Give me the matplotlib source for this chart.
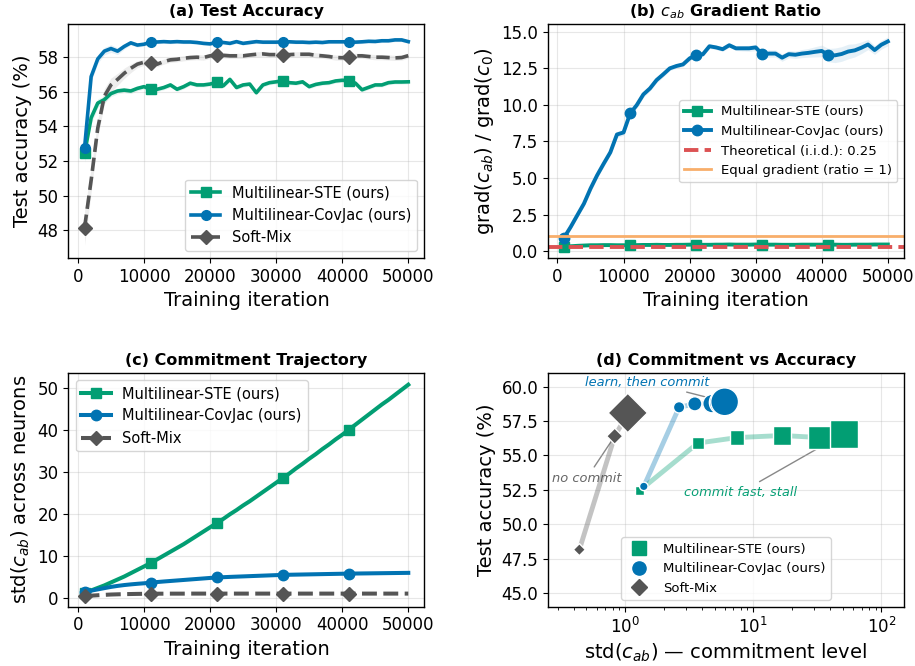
import numpy as np
import matplotlib
matplotlib.use("Agg")
import matplotlib.pyplot as plt
from matplotlib.lines import Line2D

# ---------------- data ----------------
iters = list(range(1000, 50001, 1000))

acc_ste = [52.45, 54.5, 55.35, 55.55, 55.9, 56.05, 56.1, 56.05, 56.2, 56.3,
           56.15, 56.15, 56.25, 56.4, 56.15, 56.3, 56.5, 56.4, 56.4, 56.45,
           56.55, 56.35, 56.72, 56.25, 56.4, 56.45, 55.95, 56.4, 56.53, 56.58,
           56.65, 56.53, 56.5, 56.58, 56.3, 56.43, 56.5, 56.53, 56.63, 56.67,
           56.65, 56.5, 56.12, 56.26, 56.4, 56.4, 56.53, 56.57, 56.57, 56.58]
acc_covjac = [52.75, 56.88, 57.9, 58.35, 58.5, 58.35, 58.62, 58.83, 58.7, 58.75,
              58.87, 58.88, 58.9, 58.88, 58.9, 58.88, 58.88, 58.85, 58.8, 58.77,
              58.87, 58.85, 58.8, 58.9, 58.8, 58.85, 58.9, 58.87, 58.87, 58.87,
              58.89, 58.89, 58.87, 58.87, 58.85, 58.87, 58.85, 58.89, 58.89, 58.89,
              58.89, 58.87, 58.89, 58.92, 58.91, 58.95, 58.95, 59.0, 59.0, 58.9]
acc_soft = [48.15, 50.9, 53.9, 55.75, 56.4, 56.72, 57.07, 57.36, 57.6, 57.71,
            57.68, 57.6, 57.75, 57.85, 57.88, 57.94, 57.98, 58.0, 57.98, 58.08,
            58.12, 58.11, 58.08, 58.08, 58.08, 58.13, 58.17, 58.19, 58.15, 58.15,
            58.13, 58.15, 58.17, 58.17, 58.17, 58.11, 58.08, 58.04, 57.98, 57.97,
            58.0, 58.08, 58.08, 58.04, 58.0, 58.0, 57.98, 57.96, 57.98, 58.09]

acc_ste_sd = [0.5, 0.35, 0.25, 0.2, 0.18, 0.16, 0.15, 0.15, 0.14, 0.14,
              0.14, 0.13, 0.13, 0.13, 0.13, 0.13, 0.12, 0.12, 0.12, 0.12,
              0.12, 0.12, 0.12, 0.12, 0.12, 0.12, 0.12, 0.12, 0.12, 0.12,
              0.12, 0.12, 0.12, 0.12, 0.12, 0.12, 0.12, 0.12, 0.12, 0.12,
              0.12, 0.12, 0.12, 0.12, 0.12, 0.12, 0.12, 0.12, 0.12, 0.12]
acc_covjac_sd = [0.3, 0.3, 0.25, 0.22, 0.22, 0.2, 0.15, 0.12, 0.12, 0.1,
                 0.1, 0.1, 0.1, 0.1, 0.1, 0.1, 0.1, 0.1, 0.1, 0.1,
                 0.1, 0.1, 0.1, 0.1, 0.1, 0.1, 0.1, 0.1, 0.1, 0.1,
                 0.1, 0.1, 0.1, 0.1, 0.1, 0.1, 0.1, 0.1, 0.1, 0.1,
                 0.1, 0.1, 0.1, 0.1, 0.1, 0.1, 0.1, 0.1, 0.1, 0.1]
acc_soft_sd = [1.0, 0.7, 0.5, 0.45, 0.4, 0.35, 0.3, 0.25, 0.2, 0.18,
               0.16, 0.15, 0.15, 0.15, 0.15, 0.15, 0.15, 0.15, 0.15, 0.15,
               0.15, 0.15, 0.15, 0.15, 0.15, 0.15, 0.15, 0.15, 0.15, 0.15,
               0.15, 0.15, 0.15, 0.15, 0.15, 0.15, 0.15, 0.15, 0.15, 0.15,
               0.15, 0.15, 0.15, 0.15, 0.15, 0.15, 0.15, 0.15, 0.15, 0.15]

grad_ste = [0.3, 0.33, 0.36, 0.38, 0.4, 0.4, 0.41, 0.41, 0.4, 0.4,
            0.4, 0.41, 0.42, 0.42, 0.43, 0.42, 0.42, 0.43, 0.43, 0.44,
            0.44, 0.43, 0.43, 0.44, 0.44, 0.45, 0.44, 0.44, 0.44, 0.45,
            0.45, 0.44, 0.44, 0.43, 0.43, 0.43, 0.44, 0.44, 0.44, 0.44,
            0.44, 0.44, 0.43, 0.43, 0.44, 0.44, 0.44, 0.45, 0.45, 0.45]
grad_covjac = [0.92, 1.65, 2.45, 3.24, 4.27, 5.18, 5.98, 6.75, 7.97, 8.11,
               9.41, 9.98, 10.71, 11.12, 11.69, 12.08, 12.49, 12.65, 12.76, 13.17,
               13.42, 13.45, 14.0, 13.92, 13.8, 14.07, 13.86, 13.86, 13.86, 13.92,
               13.44, 13.5, 13.5, 13.22, 13.46, 13.42, 13.5, 13.55, 13.62, 13.68,
               13.4, 13.38, 13.47, 13.64, 13.72, 13.9, 14.12, 13.74, 14.1, 14.33]
grad_ste_sd = [0.08, 0.06, 0.05, 0.05, 0.05, 0.05, 0.05, 0.05, 0.05, 0.05,
               0.05, 0.05, 0.05, 0.05, 0.05, 0.05, 0.05, 0.05, 0.05, 0.05,
               0.05, 0.05, 0.05, 0.05, 0.05, 0.05, 0.05, 0.05, 0.05, 0.05,
               0.05, 0.05, 0.05, 0.05, 0.05, 0.05, 0.05, 0.05, 0.05, 0.05,
               0.05, 0.05, 0.05, 0.05, 0.05, 0.05, 0.05, 0.05, 0.05, 0.05]
grad_covjac_sd = [0.1, 0.12, 0.15, 0.18, 0.2, 0.2, 0.2, 0.2, 0.2, 0.2,
                  0.2, 0.2, 0.2, 0.18, 0.18, 0.18, 0.15, 0.15, 0.15, 0.15,
                  0.15, 0.15, 0.15, 0.15, 0.15, 0.15, 0.15, 0.18, 0.2, 0.22,
                  0.25, 0.25, 0.25, 0.25, 0.25, 0.25, 0.28, 0.3, 0.35, 0.4,
                  0.45, 0.5, 0.5, 0.5, 0.45, 0.4, 0.35, 0.3, 0.3, 0.3]
theoretical_ratio = 0.25
equal_ratio = 1.0

std_ste = [1.3, 1.8, 2.4, 3.0, 3.7, 4.4, 5.1, 5.9, 6.7, 7.5,
           8.3, 9.2, 10.1, 11.0, 11.9, 12.8, 13.8, 14.8, 15.8, 16.8,
           17.8, 18.8, 19.9, 20.9, 22.0, 23.0, 24.1, 25.2, 26.3, 27.4,
           28.5, 29.6, 30.8, 31.9, 33.1, 34.2, 35.4, 36.5, 37.7, 38.8,
           40.0, 41.2, 42.4, 43.6, 44.8, 46.0, 47.1, 48.3, 49.5, 50.7]
std_covjac = [1.4, 1.75, 2.05, 2.35, 2.64, 2.88, 3.08, 3.24, 3.38, 3.5,
              3.65, 3.8, 3.93, 4.05, 4.17, 4.29, 4.41, 4.53, 4.65, 4.77,
              4.88, 4.95, 5.02, 5.08, 5.14, 5.2, 5.26, 5.32, 5.38, 5.44,
              5.5, 5.53, 5.56, 5.59, 5.62, 5.65, 5.68, 5.71, 5.74, 5.77,
              5.8, 5.82, 5.84, 5.86, 5.88, 5.9, 5.92, 5.94, 5.96, 5.98]
std_soft = [0.44, 0.56, 0.66, 0.75, 0.83, 0.88, 0.92, 0.95, 0.98, 1.0,
            1.02, 1.03, 1.03, 1.04, 1.04, 1.04, 1.05, 1.05, 1.05, 1.05,
            1.05, 1.05, 1.05, 1.05, 1.05, 1.05, 1.05, 1.05, 1.05, 1.05,
            1.05, 1.05, 1.05, 1.05, 1.05, 1.05, 1.05, 1.05, 1.05, 1.05,
            1.05, 1.05, 1.05, 1.05, 1.05, 1.05, 1.05, 1.05, 1.05, 1.05]

snapshot_iters = [1000, 5000, 10000, 20000, 35000, 50000]

labels = ["Multilinear-STE (ours)", "Multilinear-CovJac (ours)", "Soft-Mix"]

# ---------------- style ----------------
C_STE = "#029E73"
C_COV = "#0173B2"
C_SOFT = "#555555"
C_RED = "#DC5253"
C_ORANGE = "#F8AE6A"

plt.rcParams["font.family"] = ["DejaVu Sans"]
TICK_FS = 12
LAB_FS = 14
TITLE_FS = 11.5
LEG_FS = 10.5
LEG_FS_SMALL = 9.5
LW = 2.3

fig, axes = plt.subplots(2, 2, figsize=(9.15, 6.66), dpi=100)
fig.subplots_adjust(left=0.0747, right=0.988, top=0.9635, bottom=0.089,
                    wspace=0.3466, hspace=0.491)
ax_a, ax_b = axes[0]
ax_c, ax_d = axes[1]

x = np.array(iters)


def style(ax):
    ax.grid(True, color="#b0b0b0", alpha=0.3, linewidth=0.8)
    ax.tick_params(labelsize=TICK_FS)
    for s in ax.spines.values():
        s.set_linewidth(1.0)


# ---- (a) ----
series_a = [(acc_ste, acc_ste_sd, C_STE, "s", "-"),
            (acc_covjac, acc_covjac_sd, C_COV, "o", "-"),
            (acc_soft, acc_soft_sd, C_SOFT, "D", "--")]
for (vals, sd, col, mk, ls), lab in zip(series_a, labels):
    v = np.array(vals); d = np.array(sd)
    ax_a.fill_between(x, v - d, v + d, color=col, alpha=0.1, linewidth=0)
    ax_a.plot(x, v, color=col, lw=LW + 0.3, ls=ls, marker=mk, markersize=7,
              markevery=10, label=lab)
ax_a.set_ylim(46.4, 59.9)
ax_a.set_yticks([48, 50, 52, 54, 56, 58])
ax_a.set_xticks([0, 10000, 20000, 30000, 40000, 50000])
ax_a.set_xlabel("Training iteration", fontsize=LAB_FS)
ax_a.set_ylabel("Test accuracy (%)", fontsize=LAB_FS)
ax_a.set_title("(a) Test Accuracy", fontsize=TITLE_FS, fontweight="bold")
ax_a.legend(loc="lower right", fontsize=LEG_FS)
style(ax_a)

# ---- (b) ----
series_b = [(grad_ste, grad_ste_sd, C_STE, "s"),
            (grad_covjac, grad_covjac_sd, C_COV, "o")]
for (vals, sd, col, mk), lab in zip(series_b, labels[:2]):
    v = np.array(vals); d = np.array(sd)
    ax_b.fill_between(x, v - d, v + d, color=col, alpha=0.1, linewidth=0)
    ax_b.plot(x, v, color=col, lw=LW + 0.5, marker=mk, markersize=7.5,
              markevery=10, label=lab)
ax_b.axhline(theoretical_ratio, color=C_RED, lw=2.8, ls="--",
             label="Theoretical (i.i.d.): 0.25")
ax_b.axhline(equal_ratio, color=C_ORANGE, lw=2.0,
             label="Equal gradient (ratio = 1)")
ax_b.set_ylim(-0.48, 15.5)
ax_b.set_xticks([0, 10000, 20000, 30000, 40000, 50000])
ax_b.set_yticks([0, 2.5, 5, 7.5, 10, 12.5, 15])
ax_b.set_yticklabels(["0.0", "2.5", "5.0", "7.5", "10.0", "12.5", "15.0"])
ax_b.set_xlabel("Training iteration", fontsize=LAB_FS)
ax_b.set_ylabel(r"grad($c_{ab}$) / grad($c_0$)", fontsize=LAB_FS)
ax_b.set_title(r"(b) $c_{ab}$ Gradient Ratio", fontsize=TITLE_FS, fontweight="bold")
ax_b.legend(loc="center right", fontsize=LEG_FS_SMALL)
style(ax_b)

# ---- (c) ----
series_c = [(std_ste, C_STE, "s", "-"),
            (std_covjac, C_COV, "o", "-"),
            (std_soft, C_SOFT, "D", "--")]
for (vals, col, mk, ls), lab in zip(series_c, labels):
    ax_c.plot(x, vals, color=col, lw=LW + 0.6, ls=ls, marker=mk, markersize=7.5,
              markevery=10, label=lab)
ax_c.set_ylim(-2.07, 53.5)
ax_c.set_xticks([0, 10000, 20000, 30000, 40000, 50000])
ax_c.set_yticks([0, 10, 20, 30, 40, 50])
ax_c.set_xlabel("Training iteration", fontsize=LAB_FS)
ax_c.set_ylabel(r"std($c_{ab}$) across neurons", fontsize=LAB_FS)
ax_c.set_title("(c) Commitment Trajectory", fontsize=TITLE_FS, fontweight="bold")
ax_c.legend(loc="upper left", fontsize=LEG_FS)
style(ax_c)

# ---- (d) ----
idx = [iters.index(it) for it in snapshot_iters]
sizes = 30 + 370 * np.array(snapshot_iters) / max(snapshot_iters)
series_d = [(std_ste, acc_ste, C_STE, "s"),
            (std_covjac, acc_covjac, C_COV, "o"),
            (std_soft, acc_soft, C_SOFT, "D")]
for (sx, sy, col, mk) in series_d:
    px = np.array(sx)[idx]; py = np.array(sy)[idx]
    ax_d.plot(px, py, color=col, alpha=0.35, lw=3.5, zorder=2,
              solid_capstyle="round")
    ax_d.scatter(px, py, s=sizes, marker=mk, color=col, edgecolors="white",
                 linewidths=1.0, zorder=3)
ax_d.set_xscale("log")
ax_d.set_xlim(0.25, 150)
ax_d.set_ylim(44.0, 61.0)
ax_d.set_yticks([45, 47.5, 50, 52.5, 55, 57.5, 60])
ax_d.set_yticklabels(["45.0", "47.5", "50.0", "52.5", "55.0", "57.5", "60.0"])

last = idx[-1]
ANN_FS = 9.4
ax_d.annotate("learn, then commit", xy=(std_covjac[last], acc_covjac[last]),
              xytext=(1.5, 60.33), ha="center", va="center", fontsize=ANN_FS,
              style="italic", color=C_COV,
              arrowprops=dict(arrowstyle="-", color="#888888", lw=1.0), zorder=1)
ax_d.annotate("no commit", xy=(std_soft[idx[1]], acc_soft[idx[1]]),
              xytext=(0.50, 53.32), ha="center", va="center", fontsize=ANN_FS,
              style="italic", color="#666666",
              arrowprops=dict(arrowstyle="-", color="#888888", lw=1.0), zorder=1)
ax_d.annotate("commit fast, stall", xy=(std_ste[last], acc_ste[last]),
              xytext=(8.0, 52.32), ha="center", va="center", fontsize=ANN_FS,
              style="italic", color=C_STE,
              arrowprops=dict(arrowstyle="-", color="#888888", lw=1.0), zorder=1)

handles = [Line2D([], [], ls="", marker="s", color=C_STE, markersize=9.5),
           Line2D([], [], ls="", marker="o", color=C_COV, markersize=9.5),
           Line2D([], [], ls="", marker="D", color=C_SOFT, markersize=8.5)]
ax_d.legend(handles, labels, loc="lower center", fontsize=LEG_FS_SMALL)
ax_d.set_xlabel(r"std($c_{ab}$) — commitment level", fontsize=LAB_FS)
ax_d.set_ylabel("Test accuracy (%)", fontsize=LAB_FS)
ax_d.set_title("(d) Commitment vs Accuracy", fontsize=TITLE_FS, fontweight="bold")
style(ax_d)

fig.savefig("out.png", dpi=100)
